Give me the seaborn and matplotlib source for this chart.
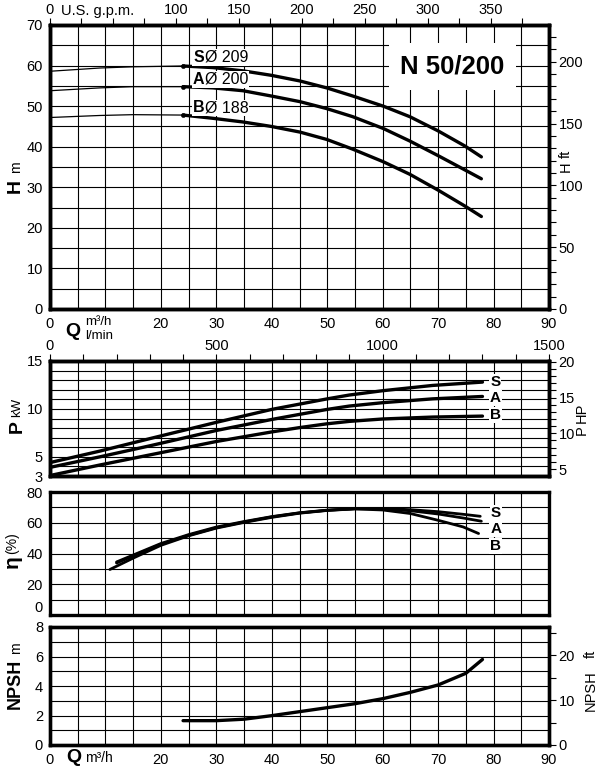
import matplotlib
matplotlib.use("Agg")
import matplotlib.pyplot as plt
import seaborn as sns
import numpy as np
import pandas as pd
from matplotlib import font_manager

# ---------------- data ----------------
# H-Q curves (thin part at low flow, thick part in working range)
q_thin = [0, 9, 15, 24]
h_s_thin = [58.6, 59.4, 59.7, 59.9]
h_a_thin = [53.8, 54.5, 54.8, 54.8]
h_b_thin = [47.2, 47.7, 47.9, 47.8]
q_h = [24, 29.4, 34.8, 39.9, 45.1, 49.9, 54.6, 60.1, 64.9, 70, 74.8, 77.8]
h_s = [59.9, 59.5, 58.7, 57.6, 56.2, 54.5, 52.5, 50.0, 47.4, 43.9, 40.2, 37.5]
h_a = [54.8, 54.5, 53.8, 52.5, 51.1, 49.4, 47.4, 44.5, 41.4, 37.8, 34.3, 32.1]
h_b = [47.8, 47.0, 46.1, 45.0, 43.6, 41.8, 39.4, 36.3, 33.2, 29.3, 25.4, 22.8]
impeller_labels = ["S", "A", "B"]
impeller_diam = ["Ø 209", "Ø 200", "Ø 188"]

# Power curves
q_p = [0, 9, 18, 30, 40, 45, 50, 54, 60, 69, 78]
p_s = [4.4, 5.6, 6.9, 8.6, 9.95, 10.5, 11.05, 11.45, 11.9, 12.45, 12.8]
p_a = [3.9, 5.0, 6.15, 7.75, 8.9, 9.43, 9.95, 10.3, 10.65, 11.05, 11.3]
p_b = [3.05, 4.15, 5.2, 6.6, 7.6, 8.05, 8.45, 8.7, 8.95, 9.15, 9.25]

# Efficiency curves
q_eta_s = [12, 15, 20, 25, 30, 35, 40, 45, 50, 55, 60, 65, 70, 74.5, 77.6]
eta_s = [34.5, 39, 46.5, 52.3, 57.2, 60.8, 64, 66.5, 68.2, 69.2, 69.3, 68.5, 67.2, 65.5, 64.2]
q_eta_a = [12, 15, 20, 25, 30, 35, 40, 45, 50, 55, 60, 65, 70, 74.5, 77.8]
eta_a = [33.8, 38.4, 46, 51.8, 56.8, 60.5, 63.8, 66.4, 68.1, 69.1, 69, 67.8, 65.7, 63.1, 61]
q_eta_b = [10.8, 15, 20, 25, 30, 35, 40, 45, 50, 55, 60, 65, 70, 74.5, 77.3]
eta_b = [29.6, 37, 45.3, 51.5, 56.5, 60.2, 63.5, 66.2, 68, 69, 68.3, 66, 61.6, 57.3, 53]

# NPSH curve
q_npsh = [24, 30, 35, 40, 45, 50, 55, 60, 65, 70, 75, 78]
npsh = [1.65, 1.65, 1.75, 1.99, 2.26, 2.53, 2.8, 3.14, 3.57, 4.07, 4.86, 5.8]

title = "N 50/200"

# ---------------- style ----------------
sns.set_theme(style="white")
plt.rcParams['font.family'] = ['Liberation Sans', 'DejaVu Sans']
plt.rcParams['axes.edgecolor'] = 'black'
plt.rcParams['xtick.color'] = 'black'
plt.rcParams['ytick.color'] = 'black'
plt.rcParams['text.color'] = 'black'

names = {f.name for f in font_manager.fontManager.ttflist}
title_font = 'Liberation Sans Narrow' if 'Liberation Sans Narrow' in names else 'Liberation Sans'

W, H = 602, 770
fig = plt.figure(figsize=(W / 100, H / 100), dpi=100)


def rect(x0, y0, x1, y1):
    return [x0 / W, 1 - y1 / H, (x1 - x0) / W, (y1 - y0) / H]


def px(x, y):
    return x / W, 1 - y / H


FS = 10.5
SPW = 2.4
GRID_LW = 0.8


def base(ax, ylim, yticks, ylabels):
    ax.set_xlim(0, 90)
    ax.set_ylim(*ylim)
    ax.set_xticks(np.arange(0, 91, 5))
    ax.set_yticks(yticks)
    ax.set_yticklabels(ylabels, fontsize=FS)
    ax.grid(True, color='black', lw=GRID_LW)
    for s in ax.spines.values():
        s.set_linewidth(SPW)
        s.set_color('black')
    ax.tick_params(axis='both', length=0, pad=5)
    ax.set_xlabel('')
    ax.set_ylabel('')


def xlabels_q(ax):
    labs = ['' if (v % 10 != 0 or v == 10) else str(v) for v in range(0, 91, 5)]
    ax.set_xticklabels(labs, fontsize=FS)


# ---------------- H panel ----------------
ax1 = fig.add_axes(rect(50, 25, 549, 309))
base(ax1, (0, 70), np.arange(0, 71, 5),
     [str(v) if v % 10 == 0 else '' for v in range(0, 71, 5)])
xlabels_q(ax1)
ax1.tick_params(axis='x', pad=6)

for ht, hk in [(h_s_thin, h_s), (h_a_thin, h_a), (h_b_thin, h_b)]:
    sns.lineplot(x=q_thin, y=ht, ax=ax1, color='black', lw=0.9, zorder=3)
    sns.lineplot(x=q_h, y=hk, ax=ax1, color='black', lw=2.4, zorder=3)
sns.scatterplot(x=[q_h[0]] * 3, y=[h_s[0], h_a[0], h_b[0]], ax=ax1,
                color='black', s=10, zorder=4, edgecolor='black')

label_pos_h = [62.0, 56.6, 49.6]
for lab, dia, yy in zip(impeller_labels, impeller_diam, label_pos_h):
    ax1.text(25.8, yy, lab, fontsize=11.5, fontweight='bold', va='center', ha='left',
             zorder=5, bbox=dict(facecolor='white', edgecolor='none', pad=0.5))
    ax1.text(27.9, yy, dia, fontsize=11.5, va='center', ha='left', zorder=5,
             bbox=dict(facecolor='white', edgecolor='none', pad=0.5))

ax1.text(72.6, 59.8, title, fontsize=18.5, fontweight='bold', family=title_font,
         ha='center', va='center', zorder=5,
         bbox=dict(facecolor='white', edgecolor='none', boxstyle='square,pad=0.45'))

# right axis in ft
ax1r = ax1.twinx()
ax1r.set_ylim(0, 70 / 0.3048)
ax1r.set_yticks(np.arange(0, 230, 10))
ax1r.set_yticklabels([str(v) if v % 50 == 0 else '' for v in range(0, 230, 10)], fontsize=FS)
ax1r.tick_params(axis='y', direction='out', length=5, width=0.8, pad=2)
ax1r.grid(False)
for s in ax1r.spines.values():
    s.set_linewidth(SPW)

# top axis in US gpm
GPM = 4.402868
ax1t = ax1.twiny()
ax1t.set_xlim(0, 90 * GPM)
gt = np.arange(0, 376, 25)
ax1t.set_xticks(gt)
ax1t.set_xticklabels(['0' if v == 0 else (str(v) if (v % 50 == 0 and v >= 100) else '') for v in gt],
                     fontsize=FS)
ax1t.tick_params(axis='x', direction='out', length=5, width=0.8, pad=1)
ax1t.grid(False)
for s in ax1t.spines.values():
    s.set_linewidth(SPW)

fig.text(*px(98, 11), "U.S. g.p.m.", fontsize=FS, ha='center', va='center')
fig.text(*px(15, 186), "H", fontsize=14, fontweight='bold', rotation=90, ha='center', va='center')
fig.text(*px(16, 167), "m", fontsize=10, rotation=90, ha='center', va='center')
fig.text(*px(566, 167), "H", fontsize=10.5, rotation=90, ha='center', va='center')
fig.text(*px(566, 154), "ft", fontsize=10.5, rotation=90, ha='center', va='center')
fig.text(*px(73, 331), "Q", fontsize=14, fontweight='bold', ha='center', va='center')
fig.text(*px(85, 322), "m³/h", fontsize=9.5, ha='left', va='center')
fig.text(*px(85, 336), "l/min", fontsize=9.5, ha='left', va='center')

# ---------------- P panel ----------------
ax2 = fig.add_axes(rect(50, 361, 549, 476))
base(ax2, (3, 15), np.arange(3, 16, 1),
     [str(v) if v in (3, 5, 10, 15) else '' for v in range(3, 16)])
ax2.set_xticklabels([])
for pp in (p_s, p_a, p_b):
    sns.lineplot(x=q_p, y=pp, ax=ax2, color='black', lw=2.4, zorder=3)
for lab, yy in zip(impeller_labels, [12.78, 11.1, 9.33]):
    ax2.text(80.3, yy, lab, fontsize=11, fontweight='bold', ha='center', va='center', zorder=5,
             bbox=dict(facecolor='white', edgecolor='none', pad=0.8))

ax2r = ax2.twinx()
ax2r.set_ylim(3 / 0.7457, 15 / 0.7457)
ax2r.set_yticks(np.arange(5, 21, 1))
ax2r.set_yticklabels([str(v) if v % 5 == 0 else '' for v in range(5, 21)], fontsize=FS)
ax2r.tick_params(axis='y', direction='out', length=5, width=0.8, pad=2)
ax2r.grid(False)
for s in ax2r.spines.values():
    s.set_linewidth(SPW)

ax2t = ax2.twiny()
ax2t.set_xlim(0, 1500)
lt = np.arange(0, 1501, 100)
ax2t.set_xticks(lt)
ax2t.set_xticklabels([str(v) if v % 500 == 0 else '' for v in lt], fontsize=FS)
ax2t.tick_params(axis='x', direction='out', length=5, width=0.8, pad=1)
ax2t.grid(False)
for s in ax2t.spines.values():
    s.set_linewidth(SPW)

fig.text(*px(17, 427), "P", fontsize=14, fontweight='bold', rotation=90, ha='center', va='center')
fig.text(*px(17, 407), "kW", fontsize=9.5, rotation=90, ha='center', va='center')
fig.text(*px(582, 430), "P", fontsize=10.5, rotation=90, ha='center', va='center')
fig.text(*px(582, 413), "HP", fontsize=10.5, rotation=90, ha='center', va='center')

# ---------------- efficiency panel ----------------
ax3 = fig.add_axes(rect(50, 492, 549, 615))
base(ax3, (0, 80), np.arange(0, 81, 10),
     [str(v) if v % 20 == 0 else '' for v in range(0, 81, 10)])
ax3.set_xticklabels([])
ax3.get_yticklabels()[0].set_va('bottom')
for qq, ee in [(q_eta_s, eta_s), (q_eta_a, eta_a), (q_eta_b, eta_b)]:
    sns.lineplot(x=qq, y=ee, ax=ax3, color='black', lw=2.0, zorder=3)
for lab, yy in zip(impeller_labels, [66.2, 55.8, 44.8]):
    ax3.text(80.4, yy, lab, fontsize=11, fontweight='bold', ha='center', va='center', zorder=5,
             bbox=dict(facecolor='white', edgecolor='none', pad=0.8))
fig.text(*px(12, 562), "η", fontsize=15, fontweight='bold', rotation=90, ha='center', va='center')
fig.text(*px(12, 543), "(%)", fontsize=10, rotation=90, ha='center', va='center')

# ---------------- NPSH panel ----------------
ax4 = fig.add_axes(rect(50, 627, 549, 745))
base(ax4, (0, 8), np.arange(0, 9, 1),
     [str(v) if v % 2 == 0 else '' for v in range(0, 9)])
xlabels_q(ax4)
ax4.tick_params(axis='x', pad=6)
sns.lineplot(x=q_npsh, y=npsh, ax=ax4, color='black', lw=2.4, zorder=3)

ax4r = ax4.twinx()
ax4r.set_ylim(0, 8 / 0.3048)
ax4r.set_yticks(np.arange(0, 26, 5))
ax4r.set_yticklabels([str(v) if v % 10 == 0 else '' for v in range(0, 26, 5)], fontsize=FS)
ax4r.tick_params(axis='y', direction='out', length=5, width=0.8, pad=2)
ax4r.grid(False)
for s in ax4r.spines.values():
    s.set_linewidth(SPW)

fig.text(*px(15, 684), "NPSH", fontsize=13, fontweight='bold', rotation=90, ha='center', va='center')
fig.text(*px(16, 648), "m", fontsize=10, rotation=90, ha='center', va='center')
fig.text(*px(591, 691), "NPSH", fontsize=10.5, rotation=90, ha='center', va='center')
fig.text(*px(591, 654), "ft", fontsize=10.5, rotation=90, ha='center', va='center')
fig.text(*px(74, 757), "Q", fontsize=14, fontweight='bold', ha='center', va='center')
fig.text(*px(85, 758), "m³/h", fontsize=10, ha='left', va='center')

fig.savefig("out.png", dpi=100)
